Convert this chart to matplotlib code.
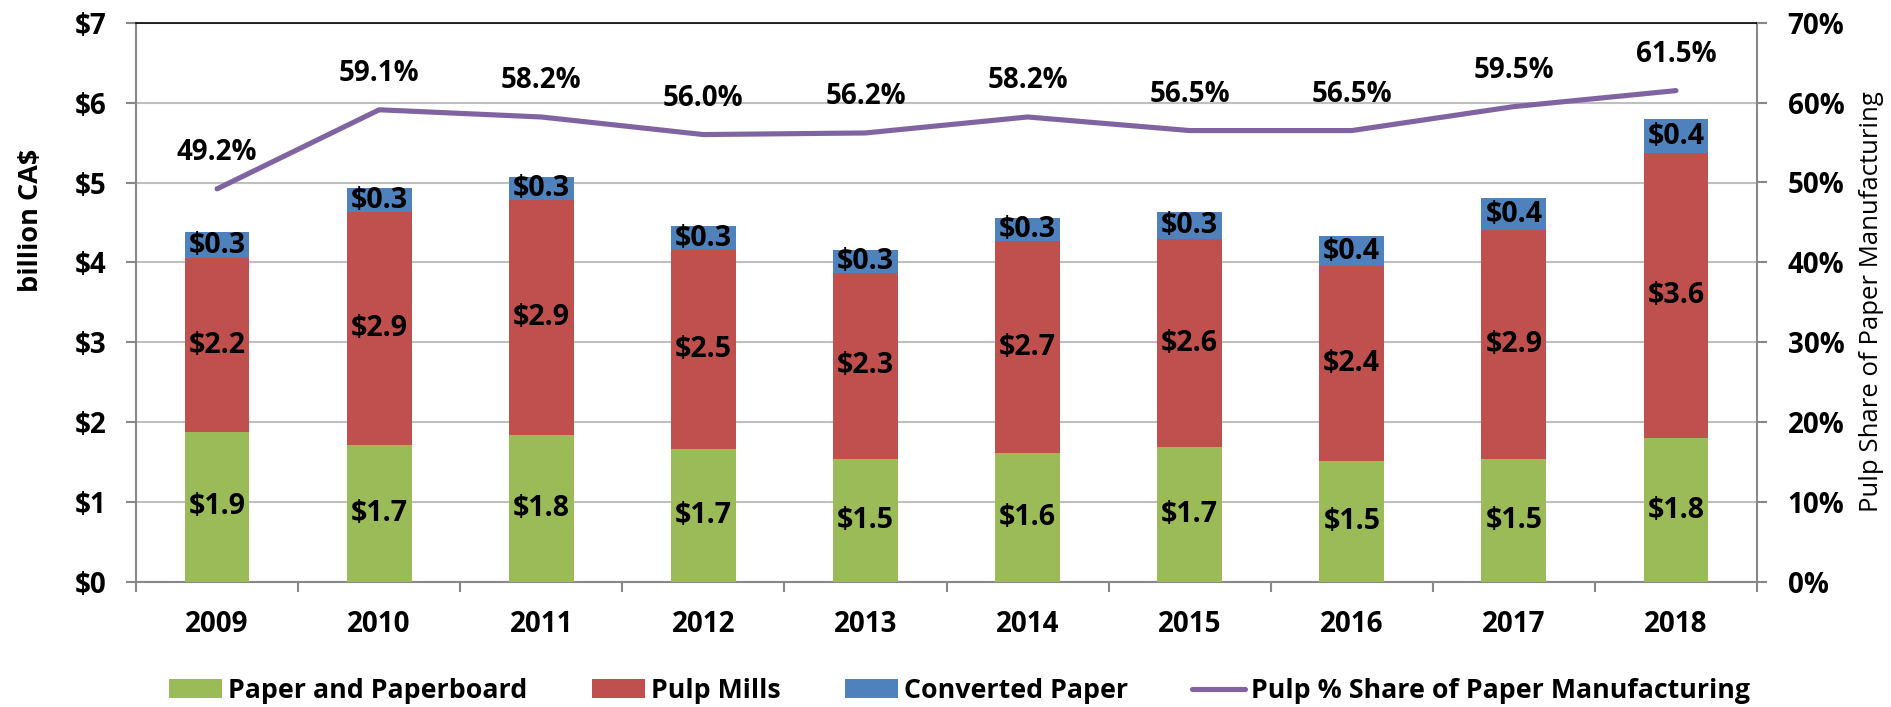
import matplotlib
matplotlib.use("Agg")
import matplotlib.pyplot as plt
from matplotlib.ticker import FuncFormatter, MultipleLocator
import numpy as np

years = ["2009", "2010", "2011", "2012", "2013", "2014", "2015", "2016", "2017", "2018"]
paper = [1.88, 1.72, 1.84, 1.66, 1.54, 1.61, 1.69, 1.52, 1.54, 1.80]
pulp = [2.17, 2.91, 2.94, 2.49, 2.33, 2.66, 2.60, 2.43, 2.86, 3.57]
converted = [0.33, 0.30, 0.29, 0.30, 0.28, 0.29, 0.34, 0.38, 0.41, 0.42]
pulp_share = [49.2, 59.1, 58.2, 56.0, 56.2, 58.2, 56.5, 56.5, 59.5, 61.5]

GREEN = "#9BBB59"
RED = "#C0504D"
BLUE = "#4F81BD"
PURPLE = "#8064A2"
FONT = "Open Sans"

plt.rcParams["font.family"] = [FONT, "DejaVu Sans"]

W, H = 1891, 707
fig = plt.figure(figsize=(W / 100, H / 100), dpi=100)
ax = fig.add_axes([136 / W, 1 - 582 / H, (1757 - 136) / W, (582 - 22.7) / H])
ax2 = ax.twinx()

x = np.arange(len(years))
w = 0.40
b1 = ax.bar(x, paper, w, color=GREEN, label="Paper and Paperboard", zorder=3)
b2 = ax.bar(x, pulp, w, bottom=paper, color=RED, label="Pulp Mills", zorder=3)
bottom3 = np.array(paper) + np.array(pulp)
b3 = ax.bar(x, converted, w, bottom=bottom3, color=BLUE, label="Converted Paper", zorder=3)

lab_kw = dict(ha="center", va="center", fontsize=20.5, fontweight="bold", color="black", zorder=5)
for i in range(len(years)):
    ax.text(x[i], paper[i] / 2, f"${paper[i]:.1f}", **lab_kw)
    ax.text(x[i], paper[i] + pulp[i] / 2, f"${pulp[i]:.1f}", **lab_kw)
    ax.text(x[i], bottom3[i] + converted[i] / 2, f"${converted[i]:.1f}", **lab_kw)

ax.set_xlim(-0.5, len(years) - 0.5)
ax.set_ylim(0, 7)
ax.yaxis.set_major_locator(MultipleLocator(1))
ax.yaxis.set_major_formatter(FuncFormatter(lambda v, p: f"${v:.0f}"))
ax.grid(axis="y", color="#BFBFBF", linewidth=1.5, zorder=0)
ax.set_axisbelow(True)
ax.set_xticks(x)
ax.set_xticklabels(years)
ax.set_xticks(np.arange(-0.5, len(years)), minor=True)
ax.tick_params(axis="x", which="major", length=0, pad=20, labelsize=20)
ax.tick_params(axis="x", which="minor", length=7, width=1.5, color="#888888")
ax.tick_params(axis="y", length=7, width=1.5, color="#888888", labelsize=20, pad=14)
for lbl in ax.get_xticklabels() + ax.get_yticklabels():
    lbl.set_fontweight("bold")
for s in ["left", "bottom", "right"]:
    ax.spines[s].set_color("#888888")
    ax.spines[s].set_linewidth(1.5)
ax.spines["top"].set_color("black")
ax.spines["top"].set_linewidth(1.2)

share = np.array(pulp_share) / 100
ax2.plot(x, share, color=PURPLE, linewidth=3.7, solid_capstyle="round",
         label="Pulp % Share of Paper Manufacturing", zorder=4)
for i in range(len(years)):
    ax2.annotate(f"{pulp_share[i]:.1f}%", (x[i], share[i]), xytext=(0, 26),
                 textcoords="offset points", ha="center", va="center",
                 fontsize=20, fontweight="bold")
ax2.set_ylim(0, 0.7)
ax2.yaxis.set_major_locator(MultipleLocator(0.1))
ax2.yaxis.set_major_formatter(FuncFormatter(lambda v, p: f"{v*100:.0f}%"))
ax2.tick_params(axis="y", length=7, width=1.5, color="#888888", labelsize=20, pad=15)
for lbl in ax2.get_yticklabels():
    lbl.set_fontweight("bold")
for s in ax2.spines.values():
    s.set_visible(False)

fig.text(31 / W, 1 - 220 / H, "billion CA$", rotation=90, ha="center", va="center",
         fontsize=19.5, fontweight="bold")
fig.text(1872 / W, 1 - 302 / H, "Pulp Share of Paper Manufacturing", rotation=90,
         ha="center", va="center", fontsize=18.5)

handles = [b1, b2, b3] + ax2.get_lines()
labels = [h.get_label() for h in handles]
leg = fig.legend(handles, labels, loc="center", bbox_to_anchor=(960 / W, 1 - 691 / H), ncol=4,
                 frameon=False, prop={"family": FONT, "weight": "bold", "size": 19.3},
                 handlelength=1.97, handleheight=0.68, handletextpad=0.23, columnspacing=2.4)

fig.savefig("out.png", dpi=100)
